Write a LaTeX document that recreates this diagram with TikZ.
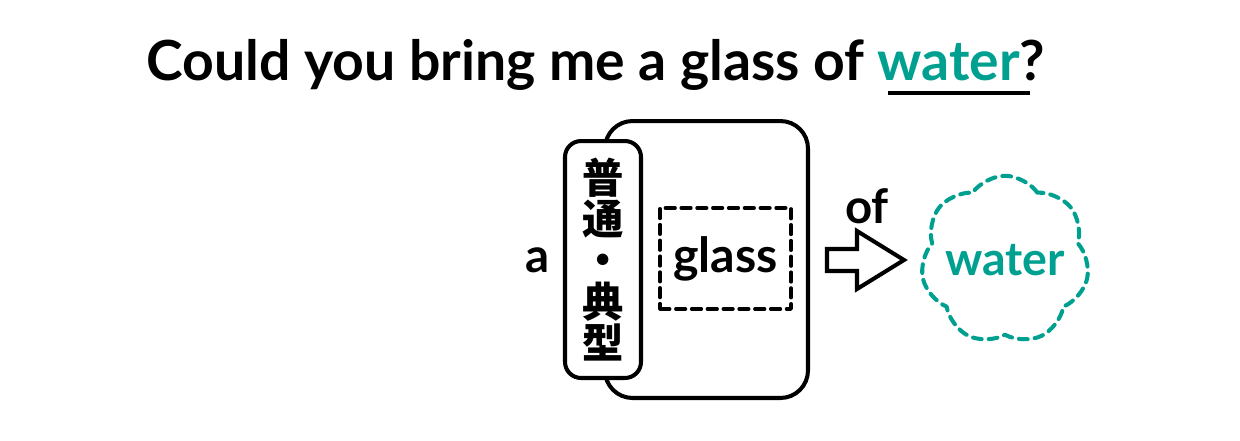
\documentclass[tikz,border=0pt]{standalone}
\usepackage{fontspec}
\setmainfont{Lato}
\newfontfamily\cjk{Noto Sans CJK JP}
\usepackage{tikz}
\usetikzlibrary{shapes.symbols}
\definecolor{waterteal}{RGB}{0,160,145}

\begin{document}
\begin{tikzpicture}[x=0.02cm,y=-0.02cm,line cap=round,line join=round,
    word/.style={font=\fontsize{27}{30}\selectfont\bfseries,inner sep=0pt},
    frame/.style={draw,line width=2.3pt,rounded corners=0.55cm,minimum width=4.06cm,minimum height=5.54cm},
    typbox/.style={draw,fill=white,line width=2.3pt,rounded corners=0.32cm,minimum width=1.52cm,minimum height=4.74cm,
      align=center,font=\cjk\bfseries\fontsize{23.5}{23.5}\selectfont},
    nounbox/.style={draw,dash pattern=on 5.5pt off 3.5pt,line width=2pt,minimum width=2.62cm,minimum height=2.02cm,
      font=\fontsize{27.5}{30}\selectfont\bfseries},
    bubble/.style={cloud,cloud puffs=7,cloud puff arc=110,aspect=1,inner sep=-4pt,draw=waterteal,text=waterteal,
      dash pattern=on 5pt off 4pt,line width=2.3pt,minimum width=3.3cm,minimum height=3.2cm,
      font=\fontsize{26.5}{30}\selectfont\bfseries}]
  \useasboundingbox (0,0) rectangle (1240,440);
  % sentence
  \node[anchor=base,inner sep=0pt,font=\fontsize{31.5}{34}\selectfont\bfseries] (title) at (596,80)
    {Could you bring me a glass of \textcolor{waterteal}{water}?};
  \coordinate (ul1) at (888,93);
  \coordinate (ul2) at (1030,93);
  \draw[line width=2.3pt,line cap=butt] (ul1) -- (ul2);
  % noun phrase
  \node[frame] (frame) at (706.5,259.5) {};
  \node[typbox] (typ) at (603,259.5) {普\\通\\・\\典\\型};
  \node[word] (art) at (538,260) {a};
  \node[nounbox] (noun) at (725.5,258.5) {glass};
  \node[word] (ofl) at (867,206) {of};
  \node[bubble] (water) at (1005,260) {water};
  % hollow arrow
  \coordinate (ar) at (827,260);
  \draw[line width=2.3pt,miter limit=10,line join=miter] (ar) -- ++(0,-11) -- ++(30,0) -- ++(0,-18) -- ++(47,29)
    -- ++(-47,29) -- ++(0,-18) -- ++(-30,0) -- cycle;
\end{tikzpicture}
\end{document}
